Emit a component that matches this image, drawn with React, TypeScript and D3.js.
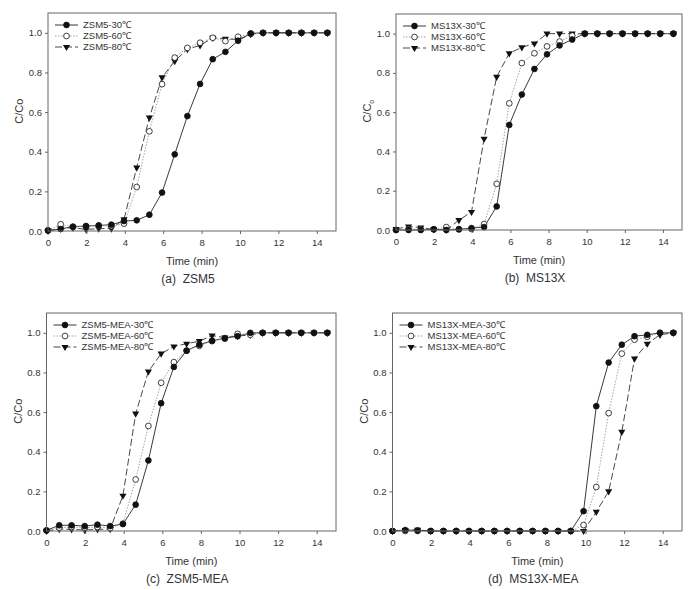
import { useEffect, useRef } from "react"
import * as d3 from "d3"

// sampling times (min), shared by all four runs
const times = [0, 0.66, 1.3, 1.98, 2.64, 3.3, 3.96, 4.62, 5.28, 5.94, 6.6, 7.26, 7.92, 8.58, 9.24, 9.9, 10.56, 11.2, 11.88, 12.54, 13.2, 13.86, 14.55]

const temps = ["30℃", "60℃", "80℃"]
const xTicks = [0, 2, 4, 6, 8, 10, 12, 14]
const yTicks = [0, 0.2, 0.4, 0.6, 0.8, 1.0]

const zsm5_30 = [0.003, 0.01, 0.022, 0.025, 0.028, 0.032, 0.05, 0.054, 0.082, 0.194, 0.387, 0.58, 0.742, 0.867, 0.904, 0.96, 0.997, 1, 1, 1, 1, 1, 1]
const zsm5_60 = [0.003, 0.034, 0.02, 0.024, 0.027, 0.025, 0.037, 0.222, 0.503, 0.741, 0.875, 0.924, 0.95, 0.975, 0.958, 0.98, 0.995, 1, 1, 1, 1, 1, 1]
const zsm5_80 = [0, 0.012, 0.017, 0.008, 0.012, 0.012, 0.059, 0.32, 0.572, 0.775, 0.857, 0.918, 0.936, 0.975, 0.97, 0.966, 0.993, 1, 1, 1, 1, 1, 1]

const ms13x_30 = [0, 0, 0, 0.004, 0, 0.003, 0.01, 0.015, 0.12, 0.535, 0.69, 0.82, 0.895, 0.94, 0.97, 1, 1, 1, 1, 1, 1, 1, 1]
const ms13x_60 = [0, 0.005, 0.003, 0.003, 0.015, 0.005, 0.005, 0.03, 0.235, 0.645, 0.85, 0.9, 0.935, 0.96, 0.99, 1, 1, 1, 1, 1, 1, 1, 1]
const ms13x_80 = [0.005, 0.018, 0.012, 0.003, 0, 0.05, 0.092, 0.465, 0.78, 0.9, 0.93, 0.95, 1, 1, 1, 1, 1, 1, 1, 1, 1, 1, 1]

const zsm5mea_30 = [0.003, 0.029, 0.029, 0.025, 0.032, 0.025, 0.035, 0.133, 0.356, 0.645, 0.828, 0.91, 0.94, 0.96, 0.973, 0.983, 1, 1, 1, 1, 1, 1, 1]
const zsm5mea_60 = [0.003, 0.017, 0.02, 0.017, 0.02, 0.015, 0.037, 0.26, 0.53, 0.748, 0.852, 0.91, 0.934, 0.958, 0.97, 0.995, 0.99, 1, 1, 1, 1, 1, 1]
const zsm5mea_80 = [0, 0.01, 0.008, 0.005, 0.008, 0.01, 0.178, 0.592, 0.805, 0.895, 0.931, 0.945, 0.958, 0.986, 0.976, 0.983, 0.99, 1, 1, 1, 1, 1, 1]

const ms13xmea_30 = [0, 0.005, 0.003, 0, 0, 0, 0, 0, 0, 0, 0, 0, 0, 0, 0, 0.1, 0.63, 0.85, 0.94, 0.983, 0.99, 1, 1]
const ms13xmea_60 = [0, 0, 0, 0, 0, 0, 0, 0, 0, 0, 0, 0, 0, 0, 0, 0.03, 0.222, 0.595, 0.895, 0.965, 0.98, 1, 1]
const ms13xmea_80 = [0, 0.005, 0.006, 0, 0, 0, 0, 0, 0, 0, 0, 0, 0, 0, 0, 0, 0.097, 0.2, 0.5, 0.87, 0.945, 0.99, 1]

type Panel = {
  name: string
  caption: string
  sub: boolean
  x0: number
  y0: number
  w: number
  h: number
  series: number[][]
}

const panels: Panel[] = [
  { name: "ZSM5", caption: "(a)  ZSM5", sub: false, x0: 48, y0: 13, w: 288, h: 218, series: [zsm5_30, zsm5_60, zsm5_80] },
  { name: "MS13X", caption: "(b)  MS13X", sub: true, x0: 396, y0: 14, w: 286, h: 216, series: [ms13x_30, ms13x_60, ms13x_80] },
  { name: "ZSM5-MEA", caption: "(c)  ZSM5-MEA", sub: false, x0: 46.5, y0: 313, w: 289.5, h: 218, series: [zsm5mea_30, zsm5mea_60, zsm5mea_80] },
  { name: "MS13X-MEA", caption: "(d)  MS13X-MEA", sub: false, x0: 392.5, y0: 313, w: 289.5, h: 218, series: [ms13xmea_30, ms13xmea_60, ms13xmea_80] },
]

const FONT = "'Liberation Sans', Arial, sans-serif"
const TEXT = "#333"
const FRAME = "#666"

const lineStyles = [
  { stroke: "#222", dash: null as string | null, width: 0.9 },
  { stroke: "#999", dash: "1.5,1.5", width: 0.9 },
  { stroke: "#333", dash: "7,3", width: 0.9 },
]

export default function App() {
  const svgRef = useRef<SVGSVGElement | null>(null)

  useEffect(() => {
    if (!svgRef.current) return
    const svg = d3.select(svgRef.current)
    svg.selectAll("*").remove()

    const circle = d3.symbol().type(d3.symbolCircle).size(26)
    const tri = d3.symbol().type(d3.symbolTriangle).size(22)

    const drawMarker = (g: d3.Selection<SVGGElement, unknown, null, undefined>, k: number, x: number, y: number) => {
      if (k === 2) {
        g.append("path")
          .attr("d", tri()!)
          .attr("transform", `translate(${x},${y}) rotate(180)`)
          .attr("fill", "#111")
      } else {
        g.append("path")
          .attr("d", circle()!)
          .attr("transform", `translate(${x},${y})`)
          .attr("fill", k === 0 ? "#111" : "#fff")
          .attr("stroke", "#111")
          .attr("stroke-width", 0.8)
      }
    }

    panels.forEach(p => {
      const g = svg.append("g").attr("transform", `translate(${p.x0},${p.y0})`)
      const x = d3.scaleLinear().domain([0, 15]).range([0, p.w])
      const y = d3.scaleLinear().domain([0, 1.1]).range([p.h, 0])

      // ticks on left and bottom, pointing out
      const yAxis = g.append("g").call(
        d3.axisLeft(y).tickValues(yTicks).tickSize(3).tickPadding(3).tickFormat(d3.format(".1f"))
      )
      const xAxis = g.append("g").attr("transform", `translate(0,${p.h})`).call(
        d3.axisBottom(x).tickValues(xTicks).tickSize(3).tickPadding(5).tickFormat(d3.format("d"))
      )
      ;[xAxis, yAxis].forEach(a => {
        a.select(".domain").remove()
        a.selectAll("line").attr("stroke", FRAME)
        a.selectAll("text").attr("fill", TEXT).attr("font-family", FONT).attr("font-size", 9.5)
      })

      // series lines, then markers on top
      p.series.forEach((vals, k) => {
        const pts = vals.map((v, i) => [times[i], v] as [number, number])
        const st = lineStyles[k]
        g.append("path")
          .datum(pts)
          .attr("fill", "none")
          .attr("stroke", st.stroke)
          .attr("stroke-width", st.width)
          .attr("stroke-dasharray", st.dash)
          .attr("d", d3.line<[number, number]>().x(d => x(d[0])).y(d => y(d[1])))
      })
      for (let k = 2; k >= 0; k--) {
        p.series[k].forEach((v, i) => drawMarker(g, k, x(times[i]), y(v)))
      }

      // plot frame
      g.append("rect")
        .attr("width", p.w)
        .attr("height", p.h)
        .attr("fill", "none")
        .attr("stroke", FRAME)
        .attr("stroke-width", 1)

      // legend
      const lg = g.append("g").attr("transform", "translate(7,12)")
      temps.forEach((t, k) => {
        const st = lineStyles[k]
        const row = lg.append("g").attr("transform", `translate(0,${k * 11})`)
        row.append("line")
          .attr("x1", 0).attr("x2", 23)
          .attr("stroke", st.stroke)
          .attr("stroke-width", st.width)
          .attr("stroke-dasharray", st.dash)
        drawMarker(row, k, 11.5, 0)
        row.append("text")
          .attr("x", 28)
          .attr("dy", "0.35em")
          .attr("fill", TEXT)
          .attr("font-family", FONT)
          .attr("font-size", 9.5)
          .text(`${p.name}-${t}`)
      })

      // axis titles
      g.append("text")
        .attr("x", p.w / 2)
        .attr("y", p.h + 34)
        .attr("text-anchor", "middle")
        .attr("fill", TEXT)
        .attr("font-family", FONT)
        .attr("font-size", 11)
        .text("Time (min)")

      const yl = g.append("text")
        .attr("transform", `translate(-25,${p.h * 0.45}) rotate(-90)`)
        .attr("text-anchor", "middle")
        .attr("fill", TEXT)
        .attr("font-family", FONT)
        .attr("font-size", 11)
      if (p.sub) {
        yl.append("tspan").text("C/C")
        yl.append("tspan").attr("font-size", 7).attr("dy", 3).text("o")
      } else {
        yl.text("C/Co")
      }

      svg.append("text")
        .attr("x", p.x0 + p.w / 2 - 4)
        .attr("y", p.y0 + p.h + 52)
        .attr("text-anchor", "middle")
        .attr("fill", TEXT)
        .attr("font-family", FONT)
        .attr("font-size", 12)
        .style("white-space", "pre")
        .text(p.caption)
    })
  }, [])

  return (
    <div style={{ position: "absolute", left: 0, top: 0, width: 693, height: 590, background: "#fff" }}>
      <svg ref={svgRef} width={693} height={590} style={{ display: "block" }} />
    </div>
  )
}
